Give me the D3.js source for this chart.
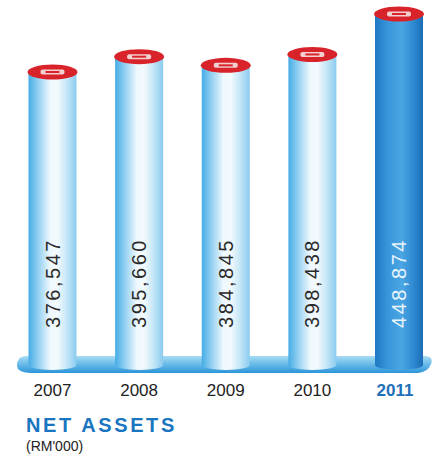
<!DOCTYPE html>
<html>
<head>
<meta charset="utf-8">
<script src="https://cdn.jsdelivr.net/npm/d3@7"></script>
<style>
  body { margin: 0; background: #fff; }
  svg { display: block; }
</style>
</head>
<body>
<div id="chart"></div>
<script>
var years = ['2007', '2008', '2009', '2010', '2011'];
var values = [376547, 395660, 384845, 398438, 448874];
var valueLabels = ['376,547', '395,660', '384,845', '398,438', '448,874'];
var title = 'NET ASSETS';
var unit = "(RM'000)";

var width = 436, height = 457;
var baseY = 365;      // bottom of the cylinders
var barW = 48;

var svg = d3.select('#chart').append('svg')
    .attr('width', width)
    .attr('height', height);

var defs = svg.append('defs');

// light cylinder gradient
var gLight = defs.append('linearGradient').attr('id', 'cylLight');
[['0%', '#45ace6'], ['18%', '#8accf0'], ['45%', '#eef8fd'], ['60%', '#f4fafd'], ['80%', '#c4e6f7'], ['100%', '#8acbef']]
    .forEach(function (s) { gLight.append('stop').attr('offset', s[0]).attr('stop-color', s[1]); });

// dark (highlighted) cylinder gradient
var gDark = defs.append('linearGradient').attr('id', 'cylDark');
[['0%', '#1f78c4'], ['25%', '#3794d8'], ['55%', '#4ba6e3'], ['80%', '#2f8ad3'], ['100%', '#1c6cb6']]
    .forEach(function (s) { gDark.append('stop').attr('offset', s[0]).attr('stop-color', s[1]); });

// base platform gradient
var gBase = defs.append('linearGradient').attr('id', 'baseGrad')
    .attr('x1', 0).attr('y1', 0).attr('x2', 0).attr('y2', 1);
[['0%', '#a8dcf4'], ['45%', '#6cbde9'], ['100%', '#2d95d8']]
    .forEach(function (s) { gBase.append('stop').attr('offset', s[0]).attr('stop-color', s[1]); });

var x = d3.scalePoint().domain(years).range([52.5, 399]);
var y = d3.scaleLinear().domain([0, d3.max(values)]).range([374, 14]);

// platform
svg.append('path')
    .attr('d', 'M26,356 L424,356 Q434,356 431,364 Q428,372 418,373 L30,373 Q17,372 17,366 Q17,356 26,356 Z')
    .attr('fill', 'url(#baseGrad)');

var bars = svg.append('g').selectAll('g')
    .data(years)
    .join('g')
    .attr('transform', function (d) { return 'translate(' + x(d) + ',0)'; });

bars.append('path')
    .attr('d', function (d, i) {
        var top = y(values[i]);
        var r = barW / 2;
        return 'M' + (-r) + ',' + top + ' L' + (-r) + ',' + baseY +
            ' A' + r + ',5 0 0,0 ' + r + ',' + baseY +
            ' L' + r + ',' + top + ' Z';
    })
    .attr('fill', function (d, i) { return i === years.length - 1 ? 'url(#cylDark)' : 'url(#cylLight)'; });

// red caps
bars.append('ellipse')
    .attr('cx', 0)
    .attr('cy', function (d, i) { return y(values[i]); })
    .attr('rx', 25)
    .attr('ry', 7.5)
    .attr('fill', '#d9232a');

bars.append('rect')
    .attr('x', -12)
    .attr('y', function (d, i) { return y(values[i]) - 2.5; })
    .attr('width', 24)
    .attr('height', 5)
    .attr('rx', 2)
    .attr('fill', '#f3d0d0');

bars.append('rect')
    .attr('x', -7)
    .attr('y', function (d, i) { return y(values[i]) - 1; })
    .attr('width', 14)
    .attr('height', 2)
    .attr('fill', '#d9232a');

// value labels, rotated
bars.append('text')
    .attr('transform', 'translate(7,283) rotate(-90)')
    .attr('text-anchor', 'middle')
    .style('font-family', 'Liberation Sans, Arial, sans-serif')
    .style('font-size', '20px')
    .style('letter-spacing', '2.5px')
    .attr('fill', function (d, i) { return i === years.length - 1 ? '#e9f4fb' : '#2a2a2a'; })
    .text(function (d, i) { return valueLabels[i]; });

// year labels
svg.append('g').selectAll('text')
    .data(years)
    .join('text')
    .attr('x', function (d, i) { return i === years.length - 1 ? x(d) - 4 : x(d); })
    .attr('y', 396)
    .attr('text-anchor', 'middle')
    .style('font-family', 'Liberation Sans, Arial, sans-serif')
    .style('font-size', '17px')
    .style('font-weight', function (d, i) { return i === years.length - 1 ? '700' : '400'; })
    .attr('fill', function (d, i) { return i === years.length - 1 ? '#1e6fb8' : '#222'; })
    .text(function (d) { return d; });

svg.append('text')
    .attr('x', 26)
    .attr('y', 432)
    .style('font-family', 'Liberation Sans, Arial, sans-serif')
    .style('font-size', '20px')
    .style('font-weight', '700')
    .style('letter-spacing', '2.6px')
    .attr('fill', '#1a75c0')
    .text(title);

svg.append('text')
    .attr('x', 26)
    .attr('y', 451)
    .style('font-family', 'Liberation Sans, Arial, sans-serif')
    .style('font-size', '14px')
    .attr('fill', '#222')
    .text(unit);
</script>
</body>
</html>
